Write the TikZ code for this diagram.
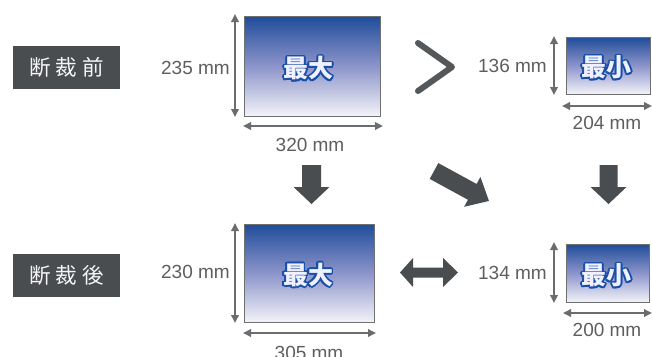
\documentclass[tikz,border=0pt]{standalone}
\usepackage{fontspec}
\setmainfont{Liberation Sans}
\newfontfamily\jp{Noto Sans CJK JP}
\usetikzlibrary{arrows.meta,calc}
\definecolor{boxgray}{HTML}{4A4D50}
\definecolor{dimgray}{HTML}{6A6C6E}
\definecolor{txtgray}{HTML}{5E5E60}
\definecolor{rtop}{HTML}{1F4C9A}
\definecolor{rmid}{HTML}{8C94CA}
\definecolor{rbot}{HTML}{F3F3F9}
\definecolor{rborder}{HTML}{6E7072}
\definecolor{outblue}{HTML}{1A4FA6}
\definecolor{chev}{HTML}{55585B}
\tikzset{
  x=1pt, y=-1pt,
  labelbox/.style={fill=boxgray, minimum width=107pt, minimum height=43pt, inner sep=0pt,
    text=white!92!gray, font=\jp\fontsize{21.5}{22}\selectfont},
  paper/.style={draw=rborder, line width=0.8pt, top color=rtop, bottom color=rbot,
    middle color=rmid, inner sep=0pt},
  dimarrow/.style={draw=dimgray, line width=1.8pt,
    {Triangle[length=8pt,width=7.5pt]}-{Triangle[length=8pt,width=7.5pt]}},
  dimtext/.style={text=txtgray, font=\fontsize{19}{19}\selectfont, inner sep=0pt},
  jptext/.style={font=\jp\bfseries\fontsize{25}{25}\selectfont, inner sep=0pt},
  blockfill/.style={fill=boxgray},
}
\newcommand\outlined[2]{%
  \foreach \a in {0,22.5,...,337.5}
    \node[jptext, text=outblue] at ($(#1)+(\a:1.6)$) {#2};
  \node[jptext, text=white!94!blue] (#1txt) at (#1) {#2};}
\newcommand\blockarr[7]{% x y angle length stemw headw headlen
  \fill[blockfill, shift={(#1,#2)}, rotate=#3]
    (0,-#5/2) -- (#4-#7,-#5/2) -- (#4-#7,-#6/2) -- (#4,0) -- (#4-#7,#6/2)
    -- (#4-#7,#5/2) -- (0,#5/2) -- cycle;}
\begin{document}
\begin{tikzpicture}
\useasboundingbox (0,0) rectangle (652,356);
% labels
\node[labelbox] (before) at (66.5,67.5) {断\hspace{5pt}裁\hspace{5pt}前};
\node[labelbox] (after) at (66.5,275.5) {断\hspace{5pt}裁\hspace{5pt}後};
% papers
\node[paper, minimum width=136pt, minimum height=100pt] (A) at (312,66) {};
\node[paper, minimum width=84pt, minimum height=57pt] (B) at (608,65.5) {};
\node[paper, minimum width=130pt, minimum height=98pt] (C) at (309,273) {};
\node[paper, minimum width=83pt, minimum height=58pt] (D) at (607.5,273) {};
\coordinate (At) at (308.5,68.5);
\coordinate (Bt) at (606.5,67.5);
\coordinate (Ct) at (308,275);
\coordinate (Dt) at (606.5,275.5);
\outlined{At}{最大}
\outlined{Bt}{最小}
\outlined{Ct}{最大}
\outlined{Dt}{最小}
% dimension arrows
\coordinate (Av1) at (235,14);  \coordinate (Av2) at (235,117);
\coordinate (Ah1) at (243,126); \coordinate (Ah2) at (383,126);
\coordinate (Bv1) at (554,36);  \coordinate (Bv2) at (554,95);
\coordinate (Bh1) at (562,106); \coordinate (Bh2) at (652,106);
\coordinate (Cv1) at (235,223); \coordinate (Cv2) at (235,323);
\coordinate (Ch1) at (243,333); \coordinate (Ch2) at (376,333);
\coordinate (Dv1) at (554,242); \coordinate (Dv2) at (554,303);
\coordinate (Dh1) at (563,313); \coordinate (Dh2) at (652,313);
\draw[dimarrow] (Av1) -- (Av2);
\draw[dimarrow] (Ah1) -- (Ah2);
\draw[dimarrow] (Bv1) -- (Bv2);
\draw[dimarrow] (Bh1) -- (Bh2);
\draw[dimarrow] (Cv1) -- (Cv2);
\draw[dimarrow] (Ch1) -- (Ch2);
\draw[dimarrow] (Dv1) -- (Dv2);
\draw[dimarrow] (Dh1) -- (Dh2);
% dimension texts
\node[dimtext, anchor=east] (Ah) at (230,67.5) {235 mm};
\node[dimtext] (Aw) at (310,145) {320 mm};
\node[dimtext, anchor=east] (Bh) at (547,66) {136 mm};
\node[dimtext] (Bw) at (607,122.5) {204 mm};
\node[dimtext, anchor=east] (Ch) at (230,271.5) {230 mm};
\node[dimtext] (Cw) at (309,352.5) {305 mm};
\node[dimtext, anchor=east] (Dh) at (547,273) {134 mm};
\node[dimtext] (Dw) at (607,330) {200 mm};
% chevron
\coordinate (c1) at (418,43); \coordinate (c2) at (452,67); \coordinate (c3) at (418,91);
\draw[chev, line width=6pt, line cap=round, line join=round] (c1) -- (c2) -- (c3);
% block arrows
\blockarr{311.5}{165}{-90}{39}{19}{36}{17}
\blockarr{608.5}{165}{-90}{39}{18}{36}{17}
\blockarr{434}{171}{-28.6}{62.6}{18}{34}{19}
% double arrow
\fill[blockfill] (400,272.5) -- (413,258) -- (413,267.5) -- (443,267.5) -- (443,258)
  -- (458,272.5) -- (443,287) -- (443,277.5) -- (413,277.5) -- (413,287) -- cycle;
\end{tikzpicture}
\end{document}
